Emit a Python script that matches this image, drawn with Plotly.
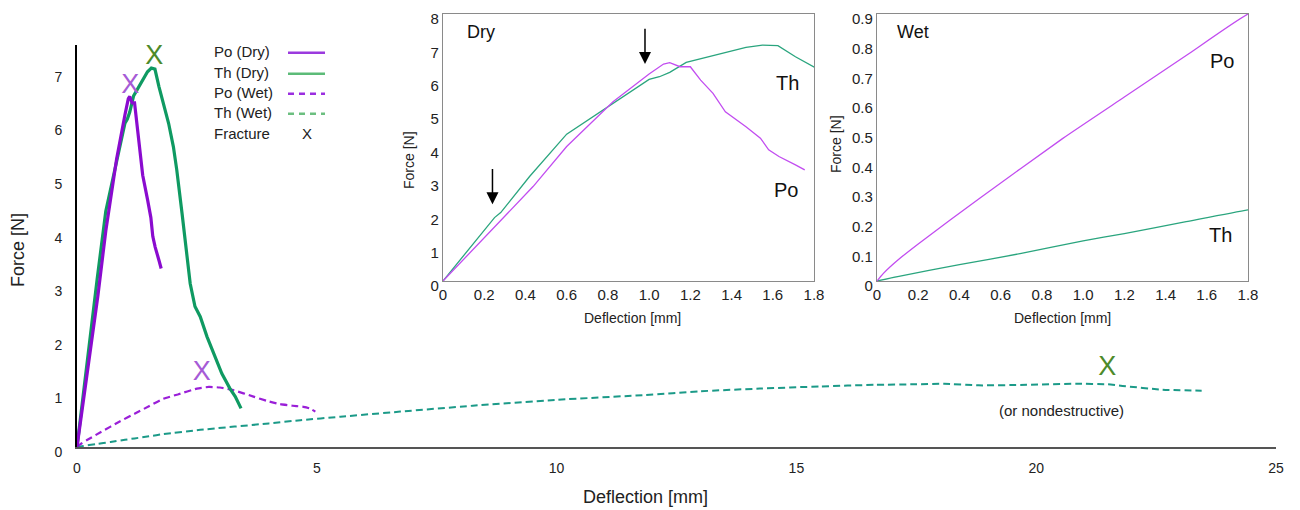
import plotly.graph_objects as go

# ---------------- data ----------------
po_dry_x = [0, 0.113, 0.275, 0.437, 0.6, 0.825, 1.0, 1.07, 1.1, 1.15, 1.2, 1.25, 1.31, 1.37, 1.47, 1.54, 1.58, 1.63, 1.71, 1.755]
po_dry_y = [0, 0.73, 1.78, 2.83, 4.03, 5.37, 6.2, 6.5, 6.54, 6.42, 6.42, 6.02, 5.62, 5.07, 4.62, 4.28, 3.93, 3.73, 3.48, 3.33]

th_dry_x = [0, 0.15, 0.25, 0.28, 0.42, 0.6, 0.825, 1.0, 1.05, 1.1, 1.18, 1.25, 1.33, 1.47, 1.55, 1.625, 1.71, 1.8,
            1.91, 2.01, 2.08, 2.19, 2.29, 2.36, 2.46, 2.57, 2.71, 2.85, 3.02, 3.19, 3.3, 3.42]
th_dry_y = [0, 1.13, 1.9, 2.05, 3.13, 4.4, 5.32, 6.04, 6.12, 6.25, 6.55, 6.66, 6.78, 7.0, 7.07, 7.05, 6.72, 6.4,
            6.04, 5.6, 5.17, 4.36, 3.55, 3.05, 2.62, 2.43, 2.06, 1.75, 1.37, 1.09, 0.94, 0.72]

po_wet_x = [0, 0.03, 0.1, 0.2, 0.5, 0.9, 1.2, 1.5, 1.8, 2.1, 2.5, 2.75, 2.98, 3.26, 3.68, 3.96, 4.23, 4.5, 4.72, 4.85, 4.97]
po_wet_y = [0, 0.025, 0.07, 0.125, 0.28, 0.48, 0.62, 0.76, 0.9, 0.98, 1.09, 1.12, 1.11, 1.06, 0.94, 0.86, 0.8, 0.77, 0.75, 0.72, 0.66]

th_wet_x = [0, 0.1, 0.4, 0.7, 1.0, 1.2, 1.5, 1.8, 2.57, 4.0, 4.66, 5.49, 6.74, 8.25, 10.0, 11.85, 13.0, 14.24,
            15.5, 16.64, 17.5, 18.08, 18.8, 19.8, 20.84, 21.5, 21.8, 22.63, 23.45]
th_wet_y = [0, 0.015, 0.055, 0.093, 0.135, 0.16, 0.2, 0.24, 0.32, 0.44, 0.5, 0.565, 0.66, 0.77, 0.88, 0.97, 1.04, 1.09,
            1.13, 1.16, 1.17, 1.18, 1.15, 1.16, 1.18, 1.17, 1.14, 1.07, 1.05]

# fracture markers (x, y) for Po dry, Th dry, Po wet, Th wet
frac_x = [1.11, 1.61, 2.6, 21.48]
frac_y = [6.73, 7.28, 1.37, 1.47]

main_xticks = [0, 5, 10, 15, 20, 25]
main_yticks = [0, 1, 2, 3, 4, 5, 6, 7]
dry_xticks = [0, 0.2, 0.4, 0.6, 0.8, 1.0, 1.2, 1.4, 1.6, 1.8]
dry_xlabels = ["0", "0.2", "0.4", "0.6", "0.8", "1.0", "1.2", "1.4", "1.6", "1.8"]
dry_yticks = [0, 1, 2, 3, 4, 5, 6, 7, 8]
wet_yticks = [0, 0.1, 0.2, 0.3, 0.4, 0.5, 0.6, 0.7, 0.8, 0.9]
wet_ylabels = ["0", "0.1", "0.2", "0.3", "0.4", "0.5", "0.6", "0.7", "0.8", "0.9"]

legend_labels = ["Po (Dry)", "Th (Dry)", "Po (Wet)", "Th (Wet)", "Fracture"]

# ---------------- styles ----------------
FONT = "Liberation Sans, Arial, sans-serif"
PO_DRY = "#8a0bcf"
TH_DRY = "#0f9a62"
PO_WET = "#9a1fd8"
TH_WET = "#1b9a88"
PO_X = "#a65bd6"
TH_X = "#4d8a2a"
PO_IN = "#c24df0"
TH_IN = "#2aa57e"

fig = go.Figure()

# main chart
fig.add_trace(go.Scatter(x=th_wet_x, y=th_wet_y, mode="lines",
                         line=dict(color=TH_WET, width=2, dash="7px,4px", shape="spline", smoothing=0.5),
                         xaxis="x", yaxis="y"))
fig.add_trace(go.Scatter(x=po_wet_x, y=po_wet_y, mode="lines",
                         line=dict(color=PO_WET, width=2.2, dash="7px,4px", shape="spline", smoothing=0.5),
                         xaxis="x", yaxis="y"))
fig.add_trace(go.Scatter(x=th_dry_x, y=th_dry_y, mode="lines",
                         line=dict(color=TH_DRY, width=3.2), xaxis="x", yaxis="y"))
fig.add_trace(go.Scatter(x=po_dry_x, y=po_dry_y, mode="lines",
                         line=dict(color=PO_DRY, width=3.2), xaxis="x", yaxis="y"))
fig.add_trace(go.Scatter(x=frac_x, y=frac_y, mode="text", text=["X"] * 4,
                         textposition="middle center",
                         textfont=dict(family=FONT, size=27, color=[PO_X, TH_X, PO_X, TH_X]),
                         xaxis="x", yaxis="y"))

# inset dry
fig.add_trace(go.Scatter(x=th_dry_x, y=th_dry_y, mode="lines",
                         line=dict(color=TH_IN, width=1.3), xaxis="x2", yaxis="y2"))
fig.add_trace(go.Scatter(x=po_dry_x, y=po_dry_y, mode="lines",
                         line=dict(color=PO_IN, width=1.3), xaxis="x2", yaxis="y2"))
# inset wet
fig.add_trace(go.Scatter(x=th_wet_x, y=th_wet_y, mode="lines",
                         line=dict(color=TH_IN, width=1.3, shape="spline", smoothing=0.5),
                         xaxis="x3", yaxis="y3"))
fig.add_trace(go.Scatter(x=po_wet_x, y=po_wet_y, mode="lines",
                         line=dict(color=PO_IN, width=1.3, shape="spline", smoothing=0.5),
                         xaxis="x3", yaxis="y3"))

# page offset (browser body margin) -> target pixel coords are shifted by OFF
OFF = 8
W, H = 1300, 510
ML, MT = 77 - OFF, 14 - OFF
MR = W - (1276 - OFF)
MB = H - (447 - OFF)
PW, PH = W - ML - MR, H - MT - MB


def px(xp):
    return (xp - OFF - ML) / PW


def py(yp):
    return 1 - (yp - OFF - MT) / PH


inset_common = dict(showline=True, mirror=True, linecolor="#8a8a8a", linewidth=1.2,
                    showgrid=False, zeroline=False, ticks="", ticklabeloverflow="allow",
                    automargin=False,
                    tickfont=dict(family=FONT, size=15, color="#222"))

fig.update_layout(
    width=W, height=H, showlegend=False,
    margin=dict(l=ML, r=MR, t=MT, b=MB, autoexpand=False),
    paper_bgcolor="white", plot_bgcolor="white",
    font=dict(family=FONT, color="#222"),
    xaxis=dict(domain=[0, 1], range=[0, 25], tickvals=main_xticks, showgrid=False, zeroline=False,
               showline=True, linecolor="#555", linewidth=2, ticks="", ticklabelstandoff=7,
               ticklabeloverflow="allow", automargin=False,
               tickfont=dict(family=FONT, size=14, color="#222"), anchor="y"),
    yaxis=dict(domain=[0, py(45)], range=[0, 7.5], tickvals=main_yticks, showgrid=False, zeroline=False,
               showline=True, linecolor="black", linewidth=2, ticks="", ticklabelstandoff=10,
               ticklabelshift=5, ticklabeloverflow="allow", automargin=False,
               tickfont=dict(family=FONT, size=14, color="#222"), anchor="x"),
    xaxis2=dict(domain=[px(443), px(814)], range=[0, 1.8], tickvals=dry_xticks, ticktext=dry_xlabels,
                anchor="y2", ticklabelstandoff=0, **inset_common),
    yaxis2=dict(domain=[py(281), 1], range=[0, 8], tickvals=dry_yticks,
                anchor="x2", ticklabelstandoff=0, ticklabelshift=5, **inset_common),
    xaxis3=dict(domain=[px(877), px(1248)], range=[0, 1.8], tickvals=dry_xticks, ticktext=dry_xlabels,
                anchor="y3", ticklabelstandoff=0, **inset_common),
    yaxis3=dict(domain=[py(281), 1], range=[0, 0.9], tickvals=wet_yticks, ticktext=wet_ylabels,
                anchor="x3", ticklabelstandoff=0, ticklabelshift=5, **inset_common),
)

ann = []


def note(text, x, y, size, xref="paper", yref="paper", angle=0, xanchor="center", color="#222"):
    ann.append(dict(text=text, xref=xref, yref=yref, x=x, y=y, textangle=angle, showarrow=False,
                    xanchor=xanchor, yanchor="middle", font=dict(size=size, family=FONT, color=color)))


# axis titles
note("Force [N]", px(18), py(250), 18, angle=-90)
note("Deflection [mm]", px(645), py(497), 18)
note("Force [N]", px(409), py(160), 14, angle=-90)
note("Deflection [mm]", px(632), py(318), 14)
note("Force [N]", px(836), py(144), 14, angle=-90)
note("Deflection [mm]", px(1062), py(318), 14)
# inset labels
note("Dry", 0.105, 7.45, 18, xref="x2", yref="y2", xanchor="left", color="#111")
note("Th", 1.67, 5.93, 20, xref="x2", yref="y2", color="#111")
note("Po", 1.665, 2.72, 20, xref="x2", yref="y2", color="#111")
note("Wet", 0.089, 0.84, 18, xref="x3", yref="y3", xanchor="left", color="#111")
note("Po", 1.672, 0.741, 20, xref="x3", yref="y3", color="#111")
note("Th", 1.668, 0.155, 20, xref="x3", yref="y3", color="#111")
# arrows in dry inset
ann.append(dict(x=0.24, y=2.3, ax=0.24, ay=3.4, xref="x2", yref="y2", axref="x2", ayref="y2",
                text="", showarrow=True, arrowhead=2, arrowsize=1.6, arrowwidth=1.5, arrowcolor="black"))
ann.append(dict(x=0.98, y=6.5, ax=0.98, ay=7.6, xref="x2", yref="y2", axref="x2", ayref="y2",
                text="", showarrow=True, arrowhead=2, arrowsize=1.6, arrowwidth=1.5, arrowcolor="black"))
# main note
note("(or nondestructive)", 20.52, 0.69, 15, xref="x", yref="y")

# manual legend (text on the left, sample on the right)
rows = [51.7, 72.7, 92.7, 112.7, 133.3]
for lab, r in zip(legend_labels, rows):
    note(lab, px(212), py(r), 15, xanchor="left")
note("X", px(307), py(rows[4]), 15)

shapes = []
leg_styles = [("#9b3ade", "solid", 2.5), ("#5cbb78", "solid", 2.5),
              ("#9b2ee0", "6px,5px", 2.5), ("#6cbf80", "6px,5px", 2.5)]
for (c, d, w), r in zip(leg_styles, rows[:4]):
    shapes.append(dict(type="line", xref="paper", yref="paper", x0=px(288), x1=px(325),
                       y0=py(r + 1), y1=py(r + 1), line=dict(color=c, width=w, dash=d)))

fig.update_layout(annotations=ann, shapes=shapes)

fig.write_html("out.html")
